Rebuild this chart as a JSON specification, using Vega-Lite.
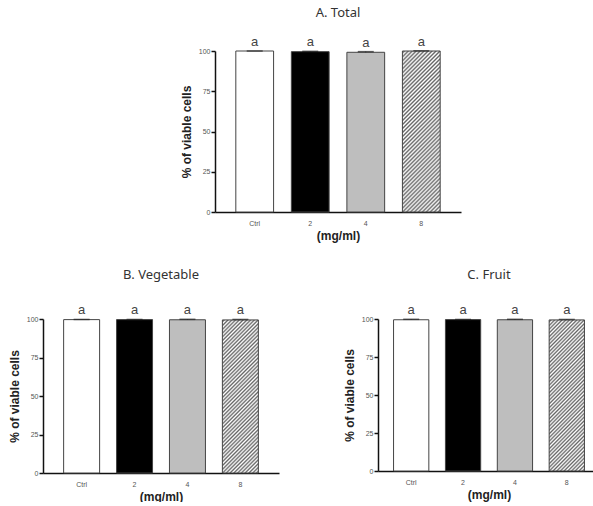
{
  "$schema": "https://vega.github.io/schema/vega-lite/v6.json",
  "padding": {"left": 8, "top": 6, "right": 0, "bottom": 0},
  "background": "white",
  "datasets": {
    "cells": [
      {"panel": "A", "dose": "Ctrl", "viability": 100, "sd": 0, "letter": "a"},
      {"panel": "A", "dose": "2", "viability": 99.6, "sd": 0.2, "letter": "a"},
      {"panel": "A", "dose": "4", "viability": 99.2, "sd": 0.4, "letter": "a"},
      {"panel": "A", "dose": "8", "viability": 100, "sd": 0.1, "letter": "a"},
      {"panel": "B", "dose": "Ctrl", "viability": 99.6, "sd": 0.1, "letter": "a"},
      {"panel": "B", "dose": "2", "viability": 99.6, "sd": 0.1, "letter": "a"},
      {"panel": "B", "dose": "4", "viability": 99.5, "sd": 0.3, "letter": "a"},
      {"panel": "B", "dose": "8", "viability": 99.4, "sd": 0.3, "letter": "a"},
      {"panel": "C", "dose": "Ctrl", "viability": 99.5, "sd": 0.3, "letter": "a"},
      {"panel": "C", "dose": "2", "viability": 99.6, "sd": 0.1, "letter": "a"},
      {"panel": "C", "dose": "4", "viability": 99.5, "sd": 0.3, "letter": "a"},
      {"panel": "C", "dose": "8", "viability": 99.4, "sd": 0.3, "letter": "a"}
    ]
  },
  "data": {"name": "cells"},
  "transform": [{"calculate": "datum.viability + datum.sd", "as": "upper"}],
  "vconcat": [
    {
      "spacing": 10,
      "hconcat": [
        {
          "width": 127,
          "height": 10,
          "data": {"values": []},
          "mark": {"type": "point", "opacity": 0}
        },
        {
          "width": 246,
          "height": 161,
          "title": {"text": "A. Total", "offset": 16},
          "transform": [{"filter": "datum.panel === 'A'"}],
          "encoding": {
            "x": {"field": "dose", "type": "nominal", "sort": ["Ctrl", "2", "4", "8"],
                  "scale": {"paddingInner": 0.32, "paddingOuter": 0.375},
                  "axis": {"title": "(mg/ml)"}}
          },
          "layer": [
            {
              "transform": [{"filter": "datum.dose !== '8'"}],
              "mark": {"type": "bar", "stroke": "#444", "strokeWidth": 1},
              "encoding": {
                "y": {"field": "viability", "type": "quantitative", "scale": {"domain": [0, 100], "nice": false}, "axis": {"title": "% of viable cells", "values": [0, 25, 50, 75, 100]}},
                "fill": {"condition": [{"test": "datum.dose === 'Ctrl'", "value": "#ffffff"}, {"test": "datum.dose === '2'", "value": "#000000"}], "value": "#bebebe"}
              }
            },
            {
              "transform": [{"filter": "datum.dose === '8'"}],
              "mark": {"type": "bar", "stroke": "#444", "strokeWidth": 1},
              "encoding": {"y": {"field": "viability", "type": "quantitative", "axis": {"title": "% of viable cells", "values": [0, 25, 50, 75, 100]}}}
            },
            {
              "mark": {"type": "rule", "color": "#222", "strokeWidth": 1},
              "encoding": {"y": {"field": "viability", "type": "quantitative", "axis": {"title": "% of viable cells", "values": [0, 25, 50, 75, 100]}}, "y2": {"field": "upper"}}
            },
            {
              "mark": {"type": "tick", "color": "#222", "thickness": 1.5, "size": 16},
              "encoding": {"y": {"field": "upper", "type": "quantitative", "axis": {"title": "% of viable cells", "values": [0, 25, 50, 75, 100]}}}
            },
            {
              "mark": {"type": "text", "dy": -5, "baseline": "alphabetic", "font": "Liberation Sans", "fontSize": 13, "color": "#444"},
              "encoding": {"y": {"field": "upper", "type": "quantitative", "axis": {"title": "% of viable cells", "values": [0, 25, 50, 75, 100]}}, "text": {"field": "letter"}}
            }
          ]
        }
      ]
    },
    {
      "spacing": 64,
      "hconcat": [
        {
          "width": 236,
          "height": 154,
          "title": {"text": "B. Vegetable", "offset": 22},
          "transform": [{"filter": "datum.panel === 'B'"}],
          "encoding": {
            "x": {"field": "dose", "type": "nominal", "sort": ["Ctrl", "2", "4", "8"],
                  "scale": {"paddingInner": 0.32, "paddingOuter": 0.39},
                  "axis": {"title": "(mg/ml)"}}
          },
          "layer": [
            {
              "transform": [{"filter": "datum.dose !== '8'"}],
              "mark": {"type": "bar", "stroke": "#444", "strokeWidth": 1},
              "encoding": {
                "y": {"field": "viability", "type": "quantitative", "scale": {"domain": [0, 100], "nice": false}, "axis": {"title": "% of viable cells", "values": [0, 25, 50, 75, 100]}},
                "fill": {"condition": [{"test": "datum.dose === 'Ctrl'", "value": "#ffffff"}, {"test": "datum.dose === '2'", "value": "#000000"}], "value": "#bebebe"}
              }
            },
            {
              "transform": [{"filter": "datum.dose === '8'"}],
              "mark": {"type": "bar", "stroke": "#444", "strokeWidth": 1},
              "encoding": {"y": {"field": "viability", "type": "quantitative", "axis": {"title": "% of viable cells", "values": [0, 25, 50, 75, 100]}}}
            },
            {
              "mark": {"type": "rule", "color": "#222", "strokeWidth": 1},
              "encoding": {"y": {"field": "viability", "type": "quantitative", "axis": {"title": "% of viable cells", "values": [0, 25, 50, 75, 100]}}, "y2": {"field": "upper"}}
            },
            {
              "mark": {"type": "tick", "color": "#222", "thickness": 1.5, "size": 16},
              "encoding": {"y": {"field": "upper", "type": "quantitative", "axis": {"title": "% of viable cells", "values": [0, 25, 50, 75, 100]}}}
            },
            {
              "mark": {"type": "text", "dy": -5, "baseline": "alphabetic", "font": "Liberation Sans", "fontSize": 13, "color": "#444"},
              "encoding": {"y": {"field": "upper", "type": "quantitative", "axis": {"title": "% of viable cells", "values": [0, 25, 50, 75, 100]}}, "text": {"field": "letter"}}
            }
          ]
        },
        {
          "width": 222,
          "height": 152,
          "title": {"text": "C. Fruit", "offset": 22},
          "transform": [{"filter": "datum.panel === 'C'"}],
          "encoding": {
            "x": {"field": "dose", "type": "nominal", "sort": ["Ctrl", "2", "4", "8"],
                  "scale": {"paddingInner": 0.32, "paddingOuter": 0.3},
                  "axis": {"title": "(mg/ml)"}}
          },
          "layer": [
            {
              "transform": [{"filter": "datum.dose !== '8'"}],
              "mark": {"type": "bar", "stroke": "#444", "strokeWidth": 1},
              "encoding": {
                "y": {"field": "viability", "type": "quantitative", "scale": {"domain": [0, 100], "nice": false}, "axis": {"title": "% of viable cells", "values": [0, 25, 50, 75, 100]}},
                "fill": {"condition": [{"test": "datum.dose === 'Ctrl'", "value": "#ffffff"}, {"test": "datum.dose === '2'", "value": "#000000"}], "value": "#bebebe"}
              }
            },
            {
              "transform": [{"filter": "datum.dose === '8'"}],
              "mark": {"type": "bar", "stroke": "#444", "strokeWidth": 1},
              "encoding": {"y": {"field": "viability", "type": "quantitative", "axis": {"title": "% of viable cells", "values": [0, 25, 50, 75, 100]}}}
            },
            {
              "mark": {"type": "rule", "color": "#222", "strokeWidth": 1},
              "encoding": {"y": {"field": "viability", "type": "quantitative", "axis": {"title": "% of viable cells", "values": [0, 25, 50, 75, 100]}}, "y2": {"field": "upper"}}
            },
            {
              "mark": {"type": "tick", "color": "#222", "thickness": 1.5, "size": 16},
              "encoding": {"y": {"field": "upper", "type": "quantitative", "axis": {"title": "% of viable cells", "values": [0, 25, 50, 75, 100]}}}
            },
            {
              "mark": {"type": "text", "dy": -5, "baseline": "alphabetic", "font": "Liberation Sans", "fontSize": 13, "color": "#444"},
              "encoding": {"y": {"field": "upper", "type": "quantitative", "axis": {"title": "% of viable cells", "values": [0, 25, 50, 75, 100]}}, "text": {"field": "letter"}}
            }
          ]
        }
      ]
    }
  ],
  "spacing": 28,
  "config": {
    "view": {"stroke": null},
    "bar": {
      "fill": {
        "gradient": "linear", "x1": 0, "y1": 0, "x2": 0.2763, "y2": 1.1708,
        "stops": [
          {"offset": 0, "color": "#fff"}, {"offset": 0.01, "color": "#666"}, {"offset": 0.02, "color": "#fff"}, {"offset": 0.03, "color": "#666"},
          {"offset": 0.04, "color": "#fff"}, {"offset": 0.05, "color": "#666"}, {"offset": 0.06, "color": "#fff"}, {"offset": 0.07, "color": "#666"},
          {"offset": 0.08, "color": "#fff"}, {"offset": 0.09, "color": "#666"}, {"offset": 0.1, "color": "#fff"}, {"offset": 0.11, "color": "#666"},
          {"offset": 0.12, "color": "#fff"}, {"offset": 0.13, "color": "#666"}, {"offset": 0.14, "color": "#fff"}, {"offset": 0.15, "color": "#666"},
          {"offset": 0.16, "color": "#fff"}, {"offset": 0.17, "color": "#666"}, {"offset": 0.18, "color": "#fff"}, {"offset": 0.19, "color": "#666"},
          {"offset": 0.2, "color": "#fff"}, {"offset": 0.21, "color": "#666"}, {"offset": 0.22, "color": "#fff"}, {"offset": 0.23, "color": "#666"},
          {"offset": 0.24, "color": "#fff"}, {"offset": 0.25, "color": "#666"}, {"offset": 0.26, "color": "#fff"}, {"offset": 0.27, "color": "#666"},
          {"offset": 0.28, "color": "#fff"}, {"offset": 0.29, "color": "#666"}, {"offset": 0.3, "color": "#fff"}, {"offset": 0.31, "color": "#666"},
          {"offset": 0.32, "color": "#fff"}, {"offset": 0.33, "color": "#666"}, {"offset": 0.34, "color": "#fff"}, {"offset": 0.35, "color": "#666"},
          {"offset": 0.36, "color": "#fff"}, {"offset": 0.37, "color": "#666"}, {"offset": 0.38, "color": "#fff"}, {"offset": 0.39, "color": "#666"},
          {"offset": 0.4, "color": "#fff"}, {"offset": 0.41, "color": "#666"}, {"offset": 0.42, "color": "#fff"}, {"offset": 0.43, "color": "#666"},
          {"offset": 0.44, "color": "#fff"}, {"offset": 0.45, "color": "#666"}, {"offset": 0.46, "color": "#fff"}, {"offset": 0.47, "color": "#666"},
          {"offset": 0.48, "color": "#fff"}, {"offset": 0.49, "color": "#666"}, {"offset": 0.5, "color": "#fff"}, {"offset": 0.51, "color": "#666"},
          {"offset": 0.52, "color": "#fff"}, {"offset": 0.53, "color": "#666"}, {"offset": 0.54, "color": "#fff"}, {"offset": 0.55, "color": "#666"},
          {"offset": 0.56, "color": "#fff"}, {"offset": 0.57, "color": "#666"}, {"offset": 0.58, "color": "#fff"}, {"offset": 0.59, "color": "#666"},
          {"offset": 0.6, "color": "#fff"}, {"offset": 0.61, "color": "#666"}, {"offset": 0.62, "color": "#fff"}, {"offset": 0.63, "color": "#666"},
          {"offset": 0.64, "color": "#fff"}, {"offset": 0.65, "color": "#666"}, {"offset": 0.66, "color": "#fff"}, {"offset": 0.67, "color": "#666"},
          {"offset": 0.68, "color": "#fff"}, {"offset": 0.69, "color": "#666"}, {"offset": 0.7, "color": "#fff"}, {"offset": 0.71, "color": "#666"},
          {"offset": 0.72, "color": "#fff"}, {"offset": 0.73, "color": "#666"}, {"offset": 0.74, "color": "#fff"}, {"offset": 0.75, "color": "#666"},
          {"offset": 0.76, "color": "#fff"}, {"offset": 0.77, "color": "#666"}, {"offset": 0.78, "color": "#fff"}, {"offset": 0.79, "color": "#666"},
          {"offset": 0.8, "color": "#fff"}, {"offset": 0.81, "color": "#666"}, {"offset": 0.82, "color": "#fff"}, {"offset": 0.83, "color": "#666"},
          {"offset": 0.84, "color": "#fff"}, {"offset": 0.85, "color": "#666"}, {"offset": 0.86, "color": "#fff"}, {"offset": 0.87, "color": "#666"},
          {"offset": 0.88, "color": "#fff"}, {"offset": 0.89, "color": "#666"}, {"offset": 0.9, "color": "#fff"}, {"offset": 0.91, "color": "#666"},
          {"offset": 0.92, "color": "#fff"}, {"offset": 0.93, "color": "#666"}, {"offset": 0.94, "color": "#fff"}, {"offset": 0.95, "color": "#666"},
          {"offset": 0.96, "color": "#fff"}, {"offset": 0.97, "color": "#666"}, {"offset": 0.98, "color": "#fff"}, {"offset": 0.99, "color": "#666"},
          {"offset": 1, "color": "#fff"}
        ]
      }
    },
    "axis": {
      "grid": false,
      "domainColor": "#111", "domainWidth": 1.5,
      "tickColor": "#111", "tickWidth": 1.5,
      "labelFont": "Liberation Sans", "labelFontSize": 7, "labelColor": "#555",
      "titleFont": "Liberation Sans", "titleFontSize": 12, "titleFontWeight": "bold", "titleColor": "#222"
    },
    "axisX": {"ticks": false, "labelAngle": 0, "labelPadding": 7, "titlePadding": 4},
    "axisY": {"tickSize": 4, "labelPadding": 1, "titlePadding": 5, "labelOverlap": false},
    "title": {"font": "Noto Sans", "fontSize": 13, "fontWeight": "normal", "color": "#333"}
  }
}
